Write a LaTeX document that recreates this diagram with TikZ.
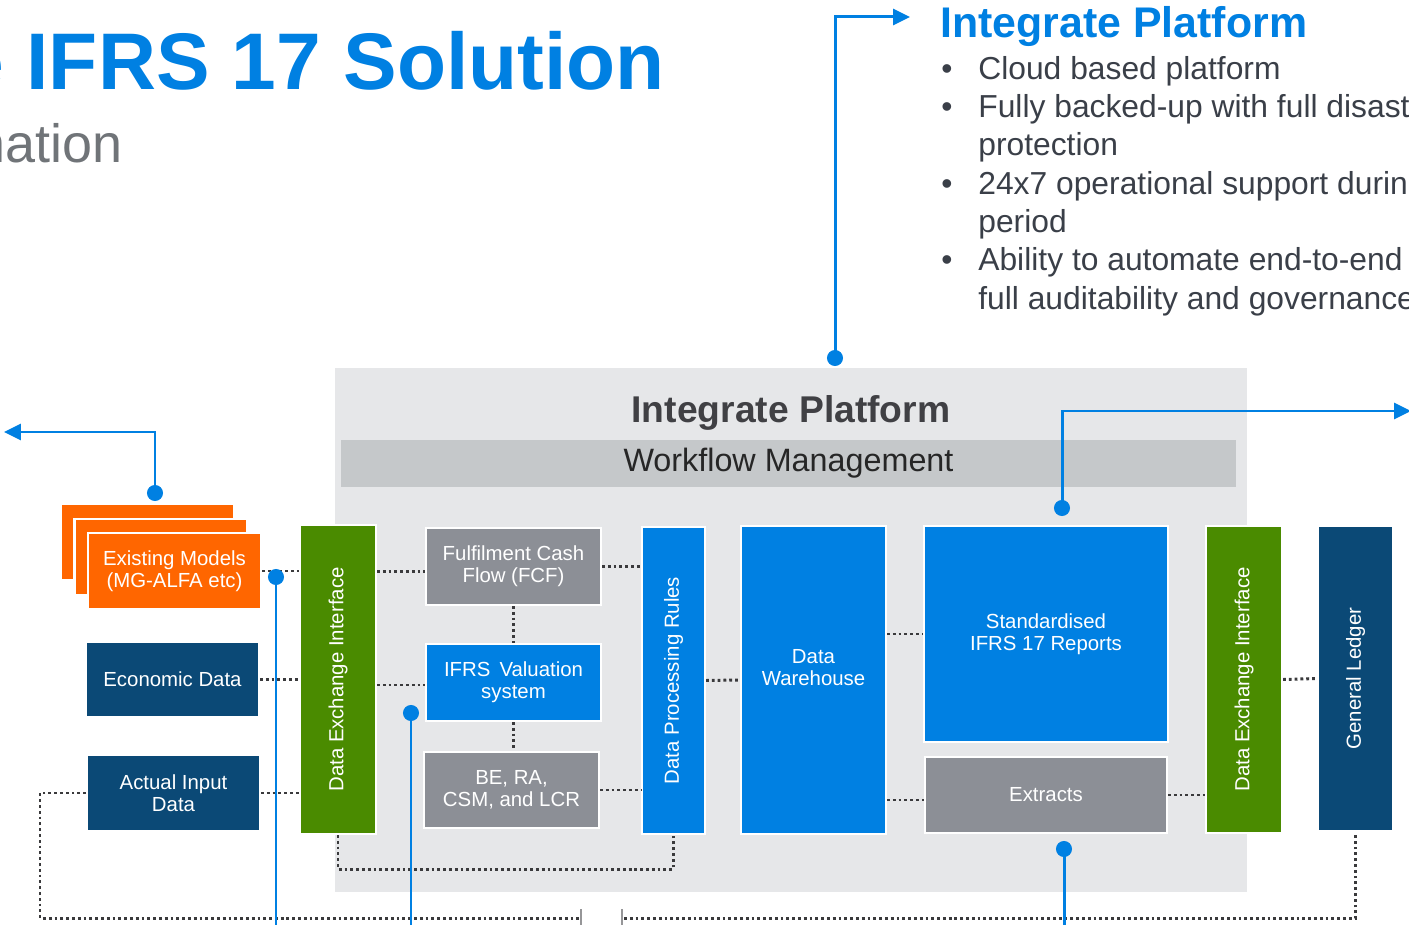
\documentclass[tikz,border=0pt]{standalone}
\usepackage{fontspec}
\setmainfont{Liberation Sans}
\usepackage{tikz}
\usetikzlibrary{positioning, arrows.meta, calc}

\definecolor{ifrsBlue}{RGB}{0,128,226}
\definecolor{ledgerNavy}{RGB}{11,73,118}
\definecolor{dexGreen}{RGB}{74,139,0}
\definecolor{modelOrange}{RGB}{255,102,0}
\definecolor{calcGray}{RGB}{140,143,150}
\definecolor{platformGray}{RGB}{230,231,233}
\definecolor{wfGray}{RGB}{197,200,202}
\definecolor{headGray}{RGB}{64,64,68}
\definecolor{bulletInk}{RGB}{58,63,72}
\definecolor{subGray}{RGB}{112,116,120}
\definecolor{dotGray}{RGB}{58,58,60}
\definecolor{barGray}{RGB}{150,150,152}

\begin{document}
\begin{tikzpicture}[x=0.02cm, y=-0.02cm,
      box/.style={draw=white, line width=1.2pt, align=center, text=white, inner sep=2pt,
                  font=\fontsize{11.6pt}{12.6pt}\selectfont},
      boxLabel/.style={align=center, text=white, inner sep=0pt, font=\fontsize{11.6pt}{12.6pt}\selectfont},
      orangeBox/.style={box, fill=modelOrange, minimum width=3.46cm, minimum height=1.52cm},
      navyBox/.style={box, fill=ledgerNavy},
      greenBox/.style={box, fill=dexGreen},
      blueBox/.style={box, fill=ifrsBlue},
      grayBox/.style={box, fill=calcGray},
      dotline/.style={draw=dotGray, line width=1.7pt, dash pattern=on 1.6pt off 1.7pt},
      callout/.style={draw=ifrsBlue, line width=1.7pt, arrows={Circle[length=0.32cm]-Triangle[length=0.34cm, width=0.32cm]}},
      calloutDot/.style={draw=ifrsBlue, line width=1.7pt, arrows={Circle[length=0.32cm]-}},
      gapBar/.style={draw=barGray, line width=1.6pt}
    ]
    \useasboundingbox (0,0) rectangle (1409,925);

    %% headings
    \node[anchor=base east, inner sep=0pt, text=ifrsBlue, font=\fontsize{45.7pt}{54pt}\selectfont\bfseries] (mainTitle) at (665,90) {e IFRS 17 Solution};
    \node[anchor=base east, inner sep=0pt, text=subGray, font=\fontsize{30.7pt}{36pt}\selectfont] (subTitle) at (123,163) {nation};
    \node[anchor=base west, inner sep=0pt, text=ifrsBlue, font=\fontsize{24.4pt}{28pt}\selectfont\bfseries] (ipHead) at (940,38) {Integrate Platform};
    \node[anchor=north west, inner sep=0pt, align=left, text=bulletInk, font=\fontsize{18.1pt}{21.8pt}\selectfont] (ipList) at (941,56) {%
      \makebox[0.74cm][l]{\textbullet}Cloud based platform\\
      \makebox[0.74cm][l]{\textbullet}Fully backed-up with full disast\\
      \hspace*{0.74cm}protection\\
      \makebox[0.74cm][l]{\textbullet}24x7 operational support durin\\
      \hspace*{0.74cm}period\\
      \makebox[0.74cm][l]{\textbullet}Ability to automate end-to-end\\
      \hspace*{0.74cm}full auditability and governance};

    %% platform
    \node[fill=platformGray, minimum width=18.24cm, minimum height=10.48cm, inner sep=0pt] (platform) at (791,630) {};
    \node[anchor=base, inner sep=0pt, text=headGray, font=\fontsize{21.2pt}{25pt}\selectfont\bfseries] (ipTitle) at (791,423) {Integrate Platform};
    \node[fill=wfGray, minimum width=17.9cm, minimum height=0.94cm, inner sep=0pt, text=black!85, font=\fontsize{18.4pt}{22pt}\selectfont] (wfBar) at (788.5,463.5) {Workflow Management};

    %% loops under the boxes
    \coordinate (loopSW) at (40,918);
    \coordinate (gapW) at (580,918);
    \coordinate (gapE) at (624,918);
    \coordinate (barW) at (581,909);
    \coordinate (barE) at (622,909);

    %% sources
    \node[orangeBox] (emBack) at (147.5,542) {};
    \node[orangeBox] (emMid) at (161,557) {};
    \node[orangeBox] (emFront) at (174.5,571) {Existing Models\\(MG-ALFA etc)};
    \node[navyBox, minimum width=3.46cm, minimum height=1.5cm] (econ) at (172.5,679.5) {Economic Data};
    \node[navyBox, minimum width=3.46cm, minimum height=1.52cm] (actual) at (173.5,793) {Actual Input\\Data};

    %% interfaces and engine
    \node[greenBox, minimum width=1.52cm, minimum height=6.18cm,
          label={[boxLabel, rotate=90]center:Data Exchange Interface}] (deiL) at (338,679.5) {};
    \node[grayBox, minimum width=3.5cm, minimum height=1.54cm] (fcf) at (513.5,566.5) {Fulfilment Cash\\Flow (FCF)};
    \node[blueBox, minimum width=3.5cm, minimum height=1.54cm] (ivs) at (513.5,682.5) {IFRS\, Valuation\\system};
    \node[grayBox, minimum width=3.5cm, minimum height=1.52cm] (berc) at (511.5,790) {BE, RA,\\CSM, and LCR};
    \node[blueBox, minimum width=1.26cm, minimum height=6.14cm,
          label={[boxLabel, rotate=90]center:Data Processing Rules}] (dpr) at (673.5,680.5) {};
    \node[blueBox, minimum width=2.9cm, minimum height=6.16cm,
          label={[boxLabel, yshift=0.24cm]center:Data\\Warehouse}] (dw) at (813.5,680) {};
    \node[blueBox, minimum width=4.88cm, minimum height=4.32cm] (rep) at (1046,634) {Standardised\\IFRS 17 Reports};
    \node[grayBox, minimum width=4.84cm, minimum height=1.52cm] (ext) at (1046,795) {Extracts};
    \node[greenBox, minimum width=1.52cm, minimum height=6.14cm,
          label={[boxLabel, rotate=90]center:Data Exchange Interface}] (deiR) at (1244,679.5) {};
    \node[navyBox, minimum width=1.5cm, minimum height=6.1cm,
          label={[boxLabel, rotate=90]center:General Ledger}] (gl) at (1355.5,678.5) {};

    %% dotted links
    \draw[dotline] (emFront.east) -- (emFront.east -| deiL.west);
    \draw[dotline] (econ.east) -- (econ.east -| deiL.west);
    \draw[dotline] (actual.east) -- (actual.east -| deiL.west);
    \draw[dotline] ([yshift=-0.1cm]fcf.west -| deiL.east) -- ([yshift=-0.1cm]fcf.west);
    \draw[dotline] ([yshift=-0.05cm]ivs.west -| deiL.east) -- ([yshift=-0.05cm]ivs.west);
    \draw[dotline] (fcf.south) -- (ivs.north);
    \draw[dotline] (ivs.south) -- (ivs.south |- berc.north);
    \draw[dotline] (fcf.east) -- (fcf.east -| dpr.west);
    \draw[dotline] (berc.east) -- (berc.east -| dpr.west);
    \draw[dotline] (dpr.east) -- (dw.west);
    \draw[dotline] (rep.west -| dw.east) -- (rep.west);
    \draw[dotline] ([yshift=-0.1cm]ext.west -| dw.east) -- ([yshift=-0.1cm]ext.west);
    \draw[dotline] (ext.east) -- (ext.east -| deiR.west);
    \draw[dotline] (deiR.east) -- (gl.west);
    \draw[dotline] (deiL.south) -- ++(0,34) -| (dpr.south);
    \draw[dotline] (actual.west) -| (loopSW) -- (gapW);
    \draw[dotline] (gapE) -| (gl.south);
    \draw[gapBar] (barW) -- ++(0,20);
    \draw[gapBar] (barE) -- ++(0,20);

    %% blue callouts
    \coordinate (dotTop) at (835,366);
    \coordinate (tipTop) at (910,17);
    \coordinate (dotModels) at (155,501);
    \coordinate (tipLeft) at (4,432);
    \coordinate (dotReports) at (1062,516);
    \coordinate (tipRight) at (1411,411);
    \coordinate (dotLink) at (276,569);
    \coordinate (dotValuation) at (411,705);
    \coordinate (dotExtracts) at (1064,841);
    \coordinate (bottomEdge) at (0,930);
    \draw[callout] (dotTop) |- (tipTop);
    \draw[callout] (dotModels) |- (tipLeft);
    \draw[callout] (dotReports) |- (tipRight);
    \draw[calloutDot] (dotLink) -- (dotLink |- bottomEdge);
    \draw[calloutDot] (dotValuation) -- (dotValuation |- bottomEdge);
    \draw[calloutDot] (dotExtracts) -- (dotExtracts |- bottomEdge);
  \end{tikzpicture}
\end{document}
